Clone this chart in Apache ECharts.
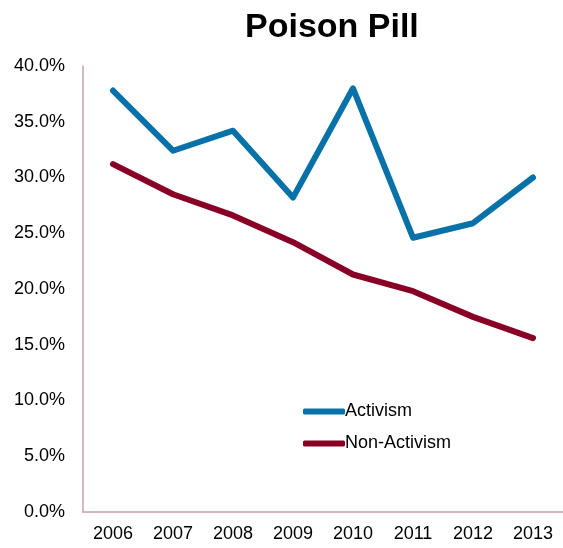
<!DOCTYPE html>
<html>
<head>
<meta charset="utf-8">
<script src="https://cdn.jsdelivr.net/npm/echarts@6/dist/echarts.min.js"></script>
<style>
html,body{margin:0;padding:0;background:#fff;}
#chart{width:563px;height:548px;}
</style>
</head>
<body>
<div id="chart"></div>
<script>
const years = ['2006','2007','2008','2009','2010','2011','2012','2013'];
const activism = [37.8, 32.4, 34.2, 28.2, 38.0, 24.6, 25.9, 30.0];
const nonActivism = [31.2, 28.5, 26.6, 24.2, 21.3, 19.8, 17.5, 15.6];
const yTicks = [0, 5, 10, 15, 20, 25, 30, 35, 40];

const FONT = '"Liberation Sans", Arial, sans-serif';
const AXIS_COLOR = '#c9a2a8';
const chart = echarts.init(document.getElementById('chart'), null, {renderer:'canvas'});
chart.setOption({
  animation: false,
  backgroundColor: '#ffffff',
  title: {
    text: 'Poison Pill',
    left: 240,
    top: 6,
    textStyle: {fontFamily: FONT, fontSize: 34, fontWeight: 'bold', color: '#000'}
  },
  legend: {
    orient: 'vertical',
    left: 298,
    top: 397,
    itemWidth: 42,
    itemHeight: 6,
    itemGap: 13,
    icon: 'roundRect',
    textStyle: {fontFamily: FONT, fontSize: 18, color: '#000', lineHeight: 19, padding: [0, 0, 0, -5]},
    data: ['Activism', 'Non-Activism']
  },
  grid: {left: 83, right: 0, top: 66, bottom: 36, containLabel: false},
  xAxis: {
    type: 'category',
    data: years,
    boundaryGap: true,
    axisLine: {show: true, lineStyle: {color: AXIS_COLOR, width: 1.5}},
    axisTick: {show: false},
    axisLabel: {fontFamily: FONT, fontSize: 18, color: '#000', margin: 13},
    splitLine: {show: false}
  },
  yAxis: {
    type: 'value',
    min: yTicks[0],
    max: yTicks[yTicks.length - 1],
    interval: yTicks[1] - yTicks[0],
    axisLine: {show: true, lineStyle: {color: AXIS_COLOR, width: 1.5}},
    axisTick: {show: false},
    splitLine: {show: false},
    axisLabel: {
      fontFamily: FONT, fontSize: 18, color: '#000', margin: 18,
      formatter: v => v.toFixed(1) + '%'
    }
  },
  series: [
    {
      name: 'Activism',
      type: 'line',
      data: activism,
      symbol: 'none',
      color: '#0872a8',
      lineStyle: {width: 6, color: '#0872a8', cap: 'round', join: 'round'}
    },
    {
      name: 'Non-Activism',
      type: 'line',
      data: nonActivism,
      symbol: 'none',
      color: '#890026',
      lineStyle: {width: 6, color: '#890026', cap: 'round', join: 'round'}
    }
  ]
});
</script>
</body>
</html>
